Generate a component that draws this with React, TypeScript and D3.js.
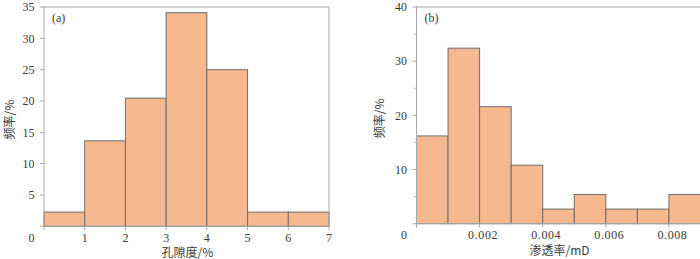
import React from "react";
import * as d3 from "d3";

// ---- data ----
const porosityBinStarts = [0, 1, 2, 3, 4, 5, 6];
const porosityBinWidth = 1;
const porosityFreq = [2.27, 13.64, 20.45, 34.09, 25.0, 2.27, 2.27];
const porosityXTicks = [0, 1, 2, 3, 4, 5, 6, 7];
const porosityYTicks = [0, 5, 10, 15, 20, 25, 30, 35];

const permBinStarts = [0, 0.001, 0.002, 0.003, 0.004, 0.005, 0.006, 0.007, 0.008];
const permBinWidth = 0.001;
const permFreq = [16.2, 32.4, 21.6, 10.8, 2.7, 5.4, 2.7, 2.7, 5.4];
const permXTicks = [0, 0.002, 0.004, 0.006, 0.008];
const permYTicks = [0, 10, 20, 30, 40];
const permYMinorTicks = [5, 15, 25, 35];

const BAR_FILL = "#f6b88e";
const BAR_STROKE = "#6e6e6e";
const AXIS = "#a8a8a8";
const TEXT = "#3a3a3a";
const NUM_FONT = "'Liberation Serif', 'DejaVu Serif', serif";
const CJK_FONT = "'Noto Sans CJK SC', 'Noto Sans', sans-serif";

type PanelProps = {
  binStarts: number[];
  binWidth: number;
  freq: number[];
  xDomain: [number, number];
  yDomain: [number, number];
  xRange: [number, number];
  yRange: [number, number];
  xTicks: number[];
  yTicks: number[];
  yMinor?: number[];
  xFormat: (v: number) => string;
  xLabel: string;
  panelLabel: string;
  xLabelDx: number;
  yLabelX: number;
};

function Panel(p: PanelProps) {
  const x = d3.scaleLinear().domain(p.xDomain).range(p.xRange);
  const y = d3.scaleLinear().domain(p.yDomain).range(p.yRange);
  const [x0, x1] = p.xRange;
  const [yb, yt] = p.yRange;
  const tickLen = 4;
  const yLabRight = x0 - 9.5;
  const xLabBase = yb + 15.5;
  return (
    <g>
      {p.binStarts.map((b, i) => (
        <rect
          key={i}
          x={x(b)}
          y={y(p.freq[i])}
          width={x(b + p.binWidth) - x(b)}
          height={y(0) - y(p.freq[i])}
          fill={BAR_FILL}
          stroke={BAR_STROKE}
          strokeWidth={1}
        />
      ))}
      {/* frame */}
      <line x1={x0} x2={x0} y1={yb} y2={yt} stroke={AXIS} />
      <line x1={x0} x2={x1} y1={yb} y2={yb} stroke={AXIS} />
      <line x1={x0} x2={x1} y1={yt} y2={yt} stroke={AXIS} />
      <line x1={x1} x2={x1} y1={yb} y2={yt} stroke={AXIS} />
      {/* y ticks */}
      {p.yTicks.map((t) => (
        <g key={"y" + t}>
          <line x1={x0 - tickLen} x2={x0} y1={y(t)} y2={y(t)} stroke={AXIS} />
          {t !== 0 && (
            <text
              x={yLabRight}
              y={y(t)}
              dy="0.35em"
              textAnchor="end"
              fontSize={12}
              fontFamily={NUM_FONT}
              fill={TEXT}
            >
              {t}
            </text>
          )}
        </g>
      ))}
      {(p.yMinor || []).map((t) => (
        <line key={"ym" + t} x1={x0 - 2} x2={x0} y1={y(t)} y2={y(t)} stroke={AXIS} />
      ))}
      {/* corner zero */}
      <text x={yLabRight} y={xLabBase} textAnchor="end" fontSize={12} fontFamily={NUM_FONT} fill={TEXT}>
        0
      </text>
      {/* x ticks */}
      {p.xTicks.map((t) => (
        <g key={"x" + t}>
          <line x1={x(t)} x2={x(t)} y1={yb} y2={yb + tickLen} stroke={AXIS} />
          {t !== 0 && (
            <text
              x={x(t) + p.xLabelDx}
              y={xLabBase}
              textAnchor="middle"
              fontSize={12}
              fontFamily={NUM_FONT}
              fill={TEXT}
              letterSpacing={p.xLabelDx ? 0.6 : 0}
            >
              {p.xFormat(t)}
            </text>
          )}
        </g>
      ))}
      {/* axis titles */}
      <text
        x={(x0 + x1) / 2 + 1}
        y={yb + 31}
        textAnchor="middle"
        fontSize={12}
        fontFamily={CJK_FONT}
        fill={TEXT}
      >
        {p.xLabel}
      </text>
      <text
        transform={`translate(${p.yLabelX},${(yb + yt) / 2 + 3}) rotate(-90)`}
        textAnchor="middle"
        dy="0.35em"
        fontSize={12}
        fontFamily={CJK_FONT}
        fill={TEXT}
      >
        频率/%
      </text>
      <text x={x0 + 8} y={yt + 15} fontSize={12} fontFamily={NUM_FONT} fill={TEXT}>
        {p.panelLabel}
      </text>
    </g>
  );
}

export default function App() {
  return (
    <svg
      width={700}
      height={259}
      style={{ position: "absolute", left: 0, top: 0, background: "#fff", display: "block" }}
    >
      <rect x={0} y={0} width={700} height={259} fill="#fff" />
      <Panel
        binStarts={porosityBinStarts}
        binWidth={porosityBinWidth}
        freq={porosityFreq}
        xDomain={[0, 7]}
        yDomain={[0, 35]}
        xRange={[44, 329]}
        yRange={[226.3, 7]}
        xTicks={porosityXTicks}
        yTicks={porosityYTicks}
        xFormat={(v) => String(v)}
        xLabel="孔隙度/%"
        panelLabel="(a)"
        xLabelDx={0}
        yLabelX={9.5}
      />
      <Panel
        binStarts={permBinStarts}
        binWidth={permBinWidth}
        freq={permFreq}
        xDomain={[0, 0.009]}
        yDomain={[0, 40]}
        xRange={[416.5, 700.5]}
        yRange={[223.7, 7]}
        xTicks={permXTicks}
        yTicks={permYTicks}
        yMinor={permYMinorTicks}
        xFormat={(v) => d3.format(".3f")(v)}
        xLabel="渗透率/mD"
        panelLabel="(b)"
        xLabelDx={3.5}
        yLabelX={380}
      />
    </svg>
  );
}
